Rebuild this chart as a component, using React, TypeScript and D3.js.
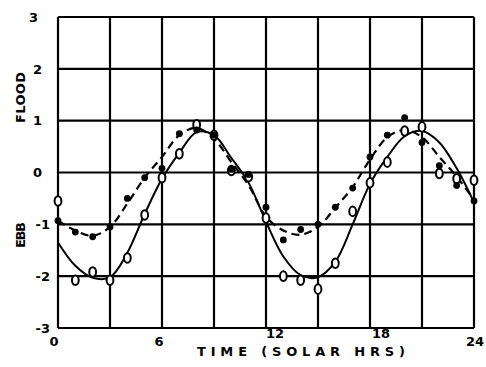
import React from "react";
import * as d3 from "d3";

// Hourly sample times (solar hours)
const HOURS = [0, 1, 2, 3, 4, 5, 6, 7, 8, 9, 10, 11, 12, 13, 14, 15, 16, 17, 18, 19, 20, 21, 22, 23, 24];

// Fitted tidal current curves
const FIT_SOLID = [-1.35, -1.8, -2.03, -2.02, -1.55, -0.8, -0.12, 0.38, 0.78, 0.72, 0.28, -0.2, -0.95, -1.62, -1.98, -2.02, -1.72, -1.0, -0.22, 0.3, 0.7, 0.8, 0.58, 0.08, -0.58];
const FIT_DASHED = [-0.93, -1.12, -1.22, -1.05, -0.6, -0.1, 0.3, 0.72, 0.86, 0.65, 0.2, -0.25, -0.85, -1.12, -1.2, -1.05, -0.68, -0.28, 0.25, 0.68, 0.82, 0.68, 0.3, -0.08, -0.52];

// Observed values
const OBS_OPEN = [-0.55, -2.08, -1.92, -2.08, -1.65, -0.82, -0.1, 0.36, 0.92, 0.72, 0.04, -0.08, -0.88, -2.0, -2.08, -2.25, -1.75, -0.75, -0.2, 0.2, 0.8, 0.88, -0.02, -0.12, -0.15];
const OBS_FILLED = [-0.93, -1.15, -1.24, -1.05, -0.5, -0.1, 0.08, 0.75, 0.82, 0.72, 0.06, -0.04, -0.67, -1.3, -1.1, -1.0, -0.67, -0.3, 0.3, 0.72, 1.06, 0.58, 0.13, -0.25, -0.55];

// Axis ticks
const X_TICKS = [0, 6, 12, 18, 24];
const X_GRID = [0, 3, 6, 9, 12, 15, 18, 21, 24];
const Y_TICKS = [3, 2, 1, 0, -1, -2, -3];

const W = 486;
const H = 367;
const FONT = "'DejaVu Sans', sans-serif";

export default function App() {
  const x = d3.scaleLinear().domain([0, 24]).range([58, 474]);
  const y = d3.scaleLinear().domain([-3, 3]).range([328, 17]);

  const line = d3
    .line<number>()
    .x((_, i) => x(HOURS[i]))
    .y((d) => y(d))
    .curve(d3.curveCatmullRom.alpha(0.5));

  // small per-label nudges of the plotter lettering
  const xLabelShift: Record<number, [number, number]> = {
    0: [-4, 346],
    6: [-3, 346],
    12: [9, 338],
    18: [11, 338],
    24: [1, 346],
  };

  return (
    <svg
      width={W}
      height={H}
      viewBox={`0 0 ${W} ${H}`}
      style={{ position: "absolute", left: 0, top: 0, background: "#fff" }}
    >
      <rect x={0} y={0} width={W} height={H} fill="#fff" />

      {/* grid */}
      <g stroke="#000" strokeWidth={2.2} fill="none">
        {X_GRID.map((t) => (
          <line key={"gx" + t} x1={x(t)} x2={x(t)} y1={y(3)} y2={y(-3)} />
        ))}
        {Y_TICKS.map((v) => (
          <line key={"gy" + v} x1={x(0)} x2={x(24)} y1={y(v)} y2={y(v)} />
        ))}
      </g>

      {/* fitted curves */}
      <path d={line(FIT_SOLID) ?? ""} fill="none" stroke="#000" strokeWidth={2} />
      <path
        d={line(FIT_DASHED) ?? ""}
        fill="none"
        stroke="#000"
        strokeWidth={2.2}
        strokeDasharray="8 5"
      />

      {/* observations */}
      <g>
        {OBS_OPEN.map((v, i) => (
          <ellipse
            key={"o" + i}
            cx={x(HOURS[i])}
            cy={y(v)}
            rx={3.4}
            ry={4.8}
            fill="#fff"
            stroke="#000"
            strokeWidth={2}
          />
        ))}
        {OBS_FILLED.map((v, i) => (
          <circle key={"f" + i} cx={x(HOURS[i])} cy={y(v)} r={3.4} fill="#000" />
        ))}
      </g>

      {/* tick labels and axis titles */}
      <g fontFamily={FONT} fontWeight="bold" fontSize={13} fill="#000">
        {Y_TICKS.map((v) => (
          <text
            key={"yl" + v}
            x={v < 0 ? 50 : v === 3 ? 38 : 42}
            y={y(v)}
            dy="0.36em"
            textAnchor="end"
          >
            {v < 0 ? `-${Math.abs(v)}` : `${v}`}
          </text>
        ))}
        {X_TICKS.map((t) => (
          <text
            key={"xl" + t}
            x={x(t) + xLabelShift[t][0]}
            y={xLabelShift[t][1]}
            textAnchor="middle"
          >
            {t}
          </text>
        ))}
        <text x={197} y={356} fontSize={13} textLength={208} lengthAdjust="spacing">
          TIME (SOLAR HRS)
        </text>
        <text
          transform="translate(25,123) rotate(-90)"
          textLength={51}
          lengthAdjust="spacing"
        >
          FLOOD
        </text>
        <text
          transform="translate(25,248) rotate(-90)"
          textLength={26}
          lengthAdjust="spacing"
        >
          EBB
        </text>
      </g>
    </svg>
  );
}
